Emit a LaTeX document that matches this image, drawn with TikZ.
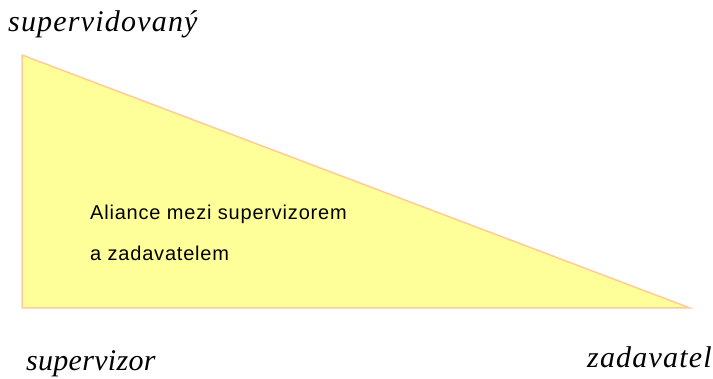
\documentclass[tikz,border=0pt]{standalone}
\usepackage{fontspec}
\setmainfont{Liberation Serif}
\newfontfamily\rolefont[LetterSpace=4]{Liberation Serif}
\newfontfamily\roletightfont[LetterSpace=1]{Liberation Serif}
\newfontfamily\arialfont[LetterSpace=4]{Liberation Sans}
\usetikzlibrary{positioning}
\definecolor{trifill}{HTML}{FFFF99}
\definecolor{triedge}{HTML}{FFCC99}
\tikzset{
  role/.style = {inner sep=0pt, anchor=base west, font=\rolefont\fontsize{30}{32}\selectfont\itshape},
  roletight/.style = {role, font=\roletightfont\fontsize{30}{32}\selectfont\itshape},
  txt/.style = {inner sep=0pt, anchor=base west, font=\arialfont\fontsize{20}{22}\selectfont},
  tri/.style = {draw=triedge, fill=trifill, line width=1.5pt, line join=miter}
}
\begin{document}
\begin{tikzpicture}[x=1pt,y=-1pt]
            \useasboundingbox (0,0) rectangle (713,379);
            \coordinate (top) at (22,55);
            \coordinate (left) at (22,308);
            \coordinate (right) at (690,308);
            \draw[tri] (top) -- (left) -- (right) -- cycle;
            \node[role] (sv) at (8,32) {supervidovaný};
            \node[roletight] (sr) at (26,371) {supervizor};
            \node[role] (zd) at (587,368) {zadavatel};
            \node[txt] (al1) at (90,220) {Aliance mezi supervizorem};
            \node[txt] (al2) at (90,261) {a zadavatelem};
        \end{tikzpicture}
\end{document}
